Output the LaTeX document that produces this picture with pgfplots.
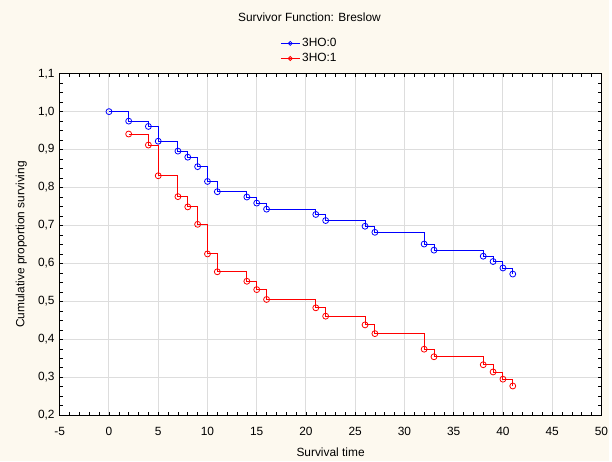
\documentclass[border=0pt]{standalone}
\usepackage{fontspec}
\setmainfont{Liberation Sans}
\usepackage{pgfplots}
\pgfplotsset{compat=1.18}
\definecolor{cream}{HTML}{FDF9EF}
\definecolor{gridgray}{HTML}{DDDDDD}

\begin{document}
\fontsize{12}{14}\selectfont
\begin{tikzpicture}
    % page background (figure is 612 x 463)
    \fill[cream] (-60bp,-46bp) rectangle (552bp,417bp);
    \begin{axis}[
        scale only axis,
        width=544bp,
        height=343bp,
        xmin=-5, xmax=50,
        ymin=0.2, ymax=1.1,
        xtick={-5,0,...,50},
        ytick={0.2,0.3,...,1.1},
        minor x tick num=4,
        minor y tick num=3,
        tick align=inside,
        major tick length=3bp,
        minor tick length=3bp,
        tick style={black, line width=0.6pt},
        grid=major,
        major grid style={gridgray, line width=1pt},
        axis line style={black, line width=0.8pt},
        axis background/.style={fill=white},
        /pgf/number format/assume math mode=true,
        yticklabel style={/pgf/number format/use comma,
            /pgf/number format/fixed,
            /pgf/number format/fixed zerofill,
            /pgf/number format/precision=1,
            xshift=-1bp},
        xticklabel style={yshift=-8bp},
        tick label style={font=\fontsize{12}{14}\selectfont},
        label style={font=\fontsize{12}{14}\selectfont},
        xlabel={Survival time},
        ylabel={Cumulative proportion surviving},
        xlabel style={yshift=-4bp},
        ylabel style={yshift=3bp},
        title={Survivor Function: Breslow},
        title style={at={(rel axis cs:0.461,1)}, anchor=south, yshift=42bp, font=\fontsize{12}{14}\selectfont},
        legend style={at={(rel axis cs:0.461,1)}, anchor=south, yshift=7bp,
            draw=none, fill=none, font=\fontsize{12}{14}\selectfont,
            row sep=1bp, inner sep=1bp},
        legend cell align=left,
        legend image code/.code={
            \draw[#1, mark=none] (0bp,0bp) -- (19bp,0bp);
            \draw[#1, mark size=2pt] plot coordinates {(9.5bp,0bp)};
        },
    ]

    % 3HO:0
    \addplot[blue, line width=0.9pt, const plot, mark=o, mark size=3pt,
        mark options={line width=0.8pt}] coordinates {
        (0,1.000) (2,0.975) (4,0.961) (5,0.922) (7,0.896) (8,0.880)
        (9,0.855) (10,0.816) (11,0.789) (14,0.775) (15,0.759) (16,0.743)
        (21,0.729) (22,0.713) (26,0.698) (27,0.682) (32,0.651) (33,0.635)
        (38,0.619) (39,0.605) (40,0.588) (41,0.572)
    };
    \addlegendentry{3HO:0}

    % 3HO:1
    \addplot[red, line width=0.9pt, const plot, mark=o, mark size=3pt,
        mark options={line width=0.8pt}] coordinates {
        (2,0.941) (4,0.912) (5,0.831) (7,0.776) (8,0.749) (9,0.703)
        (10,0.625) (11,0.578) (14,0.553) (15,0.531) (16,0.505)
        (21,0.483) (22,0.461) (26,0.438) (27,0.415) (32,0.374) (33,0.354)
        (38,0.333) (39,0.314) (40,0.295) (41,0.277)
    };
    \addlegendentry{3HO:1}

    \end{axis}
\end{tikzpicture}
\end{document}
